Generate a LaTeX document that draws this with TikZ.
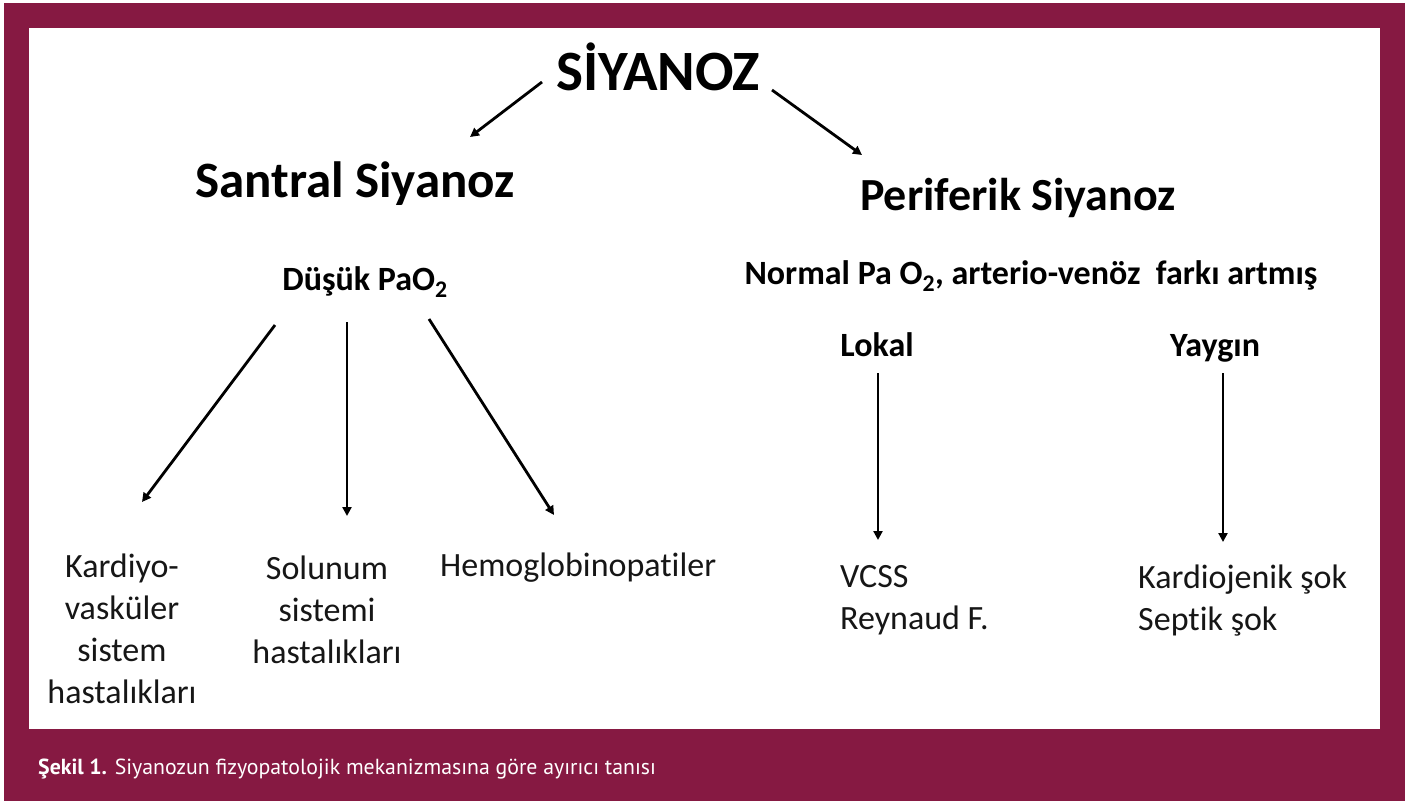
\documentclass[tikz,border=0pt]{standalone}
\usepackage{fontspec}
\setmainfont{Carlito}[Ligatures=NoCommon]
\newfontfamily\capfont{PT Sans}
\usetikzlibrary{arrows.meta}
\definecolor{frame}{RGB}{134,25,66}
\definecolor{ink}{RGB}{22,22,22}
\begin{document}
\begin{tikzpicture}[x=1pt,y=-1pt,
  lbl/.style={inner sep=0pt, text=ink, font=\fontsize{34}{42}\selectfont},
  bld/.style={inner sep=0pt, text=black, font=\bfseries\fontsize{#1}{#1}\selectfont},
  arr/.style={draw=black, line width=2.8pt, -{Triangle[length=9pt,width=9pt]}}]
  \useasboundingbox (0,0) rectangle (1415,801);
  % frame and white panel
  \fill[frame] (4,3) rectangle (1405,801);
  \fill[white] (29,28) rectangle (1380,729);
  % caption
  \node[anchor=west, inner sep=0pt, text=white, font=\capfont\fontsize{21.8}{24}\selectfont]
    (cap) at (38,769) {\textbf{Şekil 1.} Siyanozun fizyopatolojik mekanizmasına göre ayırıcı tanısı};

  % headings
  \node[bld=57, anchor=base] (siy) at (658,90) {SİYANOZ};
  \node[bld=51] (santral) at (355,184) {Santral Siyanoz};
  \node[bld=46] (periferik) at (1018,198) {Periferik Siyanoz};
  \node[bld=34] (dusuk) at (365,282) {Düşük PaO\textsubscript{2}};
  \node[bld=34] (normal) at (1031,276) {Normal Pa O\textsubscript{2}, arterio-venöz\ \ farkı artmış};
  \node[bld=34, anchor=base] (lokal) at (877,356) {Lokal};
  \node[bld=34, anchor=base] (yaygin) at (1215,356) {Yaygın};

  % leaves
  \node[lbl, align=center, anchor=north] (kardio) at (122,554) {Kardiyo-\\vasküler\\sistem\\hastalıkları};
  \node[lbl, align=center, anchor=north] (solunum) at (327,556) {Solunum\\sistemi\\hastalıkları};
  \node[lbl, anchor=north west] (hemo) at (440,553) {Hemoglobinopatiler};
  \node[lbl, align=left, anchor=north west] (vcss) at (840,565) {VCSS\\Reynaud F.};
  \node[lbl, align=left, anchor=north west] (kardiojen) at (1138,565) {Kardiojenik şok\\Septik şok};

  % arrow end points
  \coordinate (s1) at (542,82);   \coordinate (e1) at (470,137);
  \coordinate (s2) at (772,90);   \coordinate (e2) at (862,155);
  \coordinate (s3) at (275,325);  \coordinate (e3) at (142,502);
  \coordinate (s4) at (347,322);  \coordinate (e4) at (347,516);
  \coordinate (s5) at (429,319);  \coordinate (e5) at (554,515);
  \coordinate (s6) at (878,373);  \coordinate (e6) at (878,540);
  \coordinate (s7) at (1223,373); \coordinate (e7) at (1223,542);

  \draw[arr] (s1) -- (e1);
  \draw[arr] (s2) -- (e2);
  \draw[arr] (s3) -- (e3);
  \draw[arr] (s4) -- (e4);
  \draw[arr] (s5) -- (e5);
  \draw[arr] (s6) -- (e6);
  \draw[arr] (s7) -- (e7);
\end{tikzpicture}
\end{document}
